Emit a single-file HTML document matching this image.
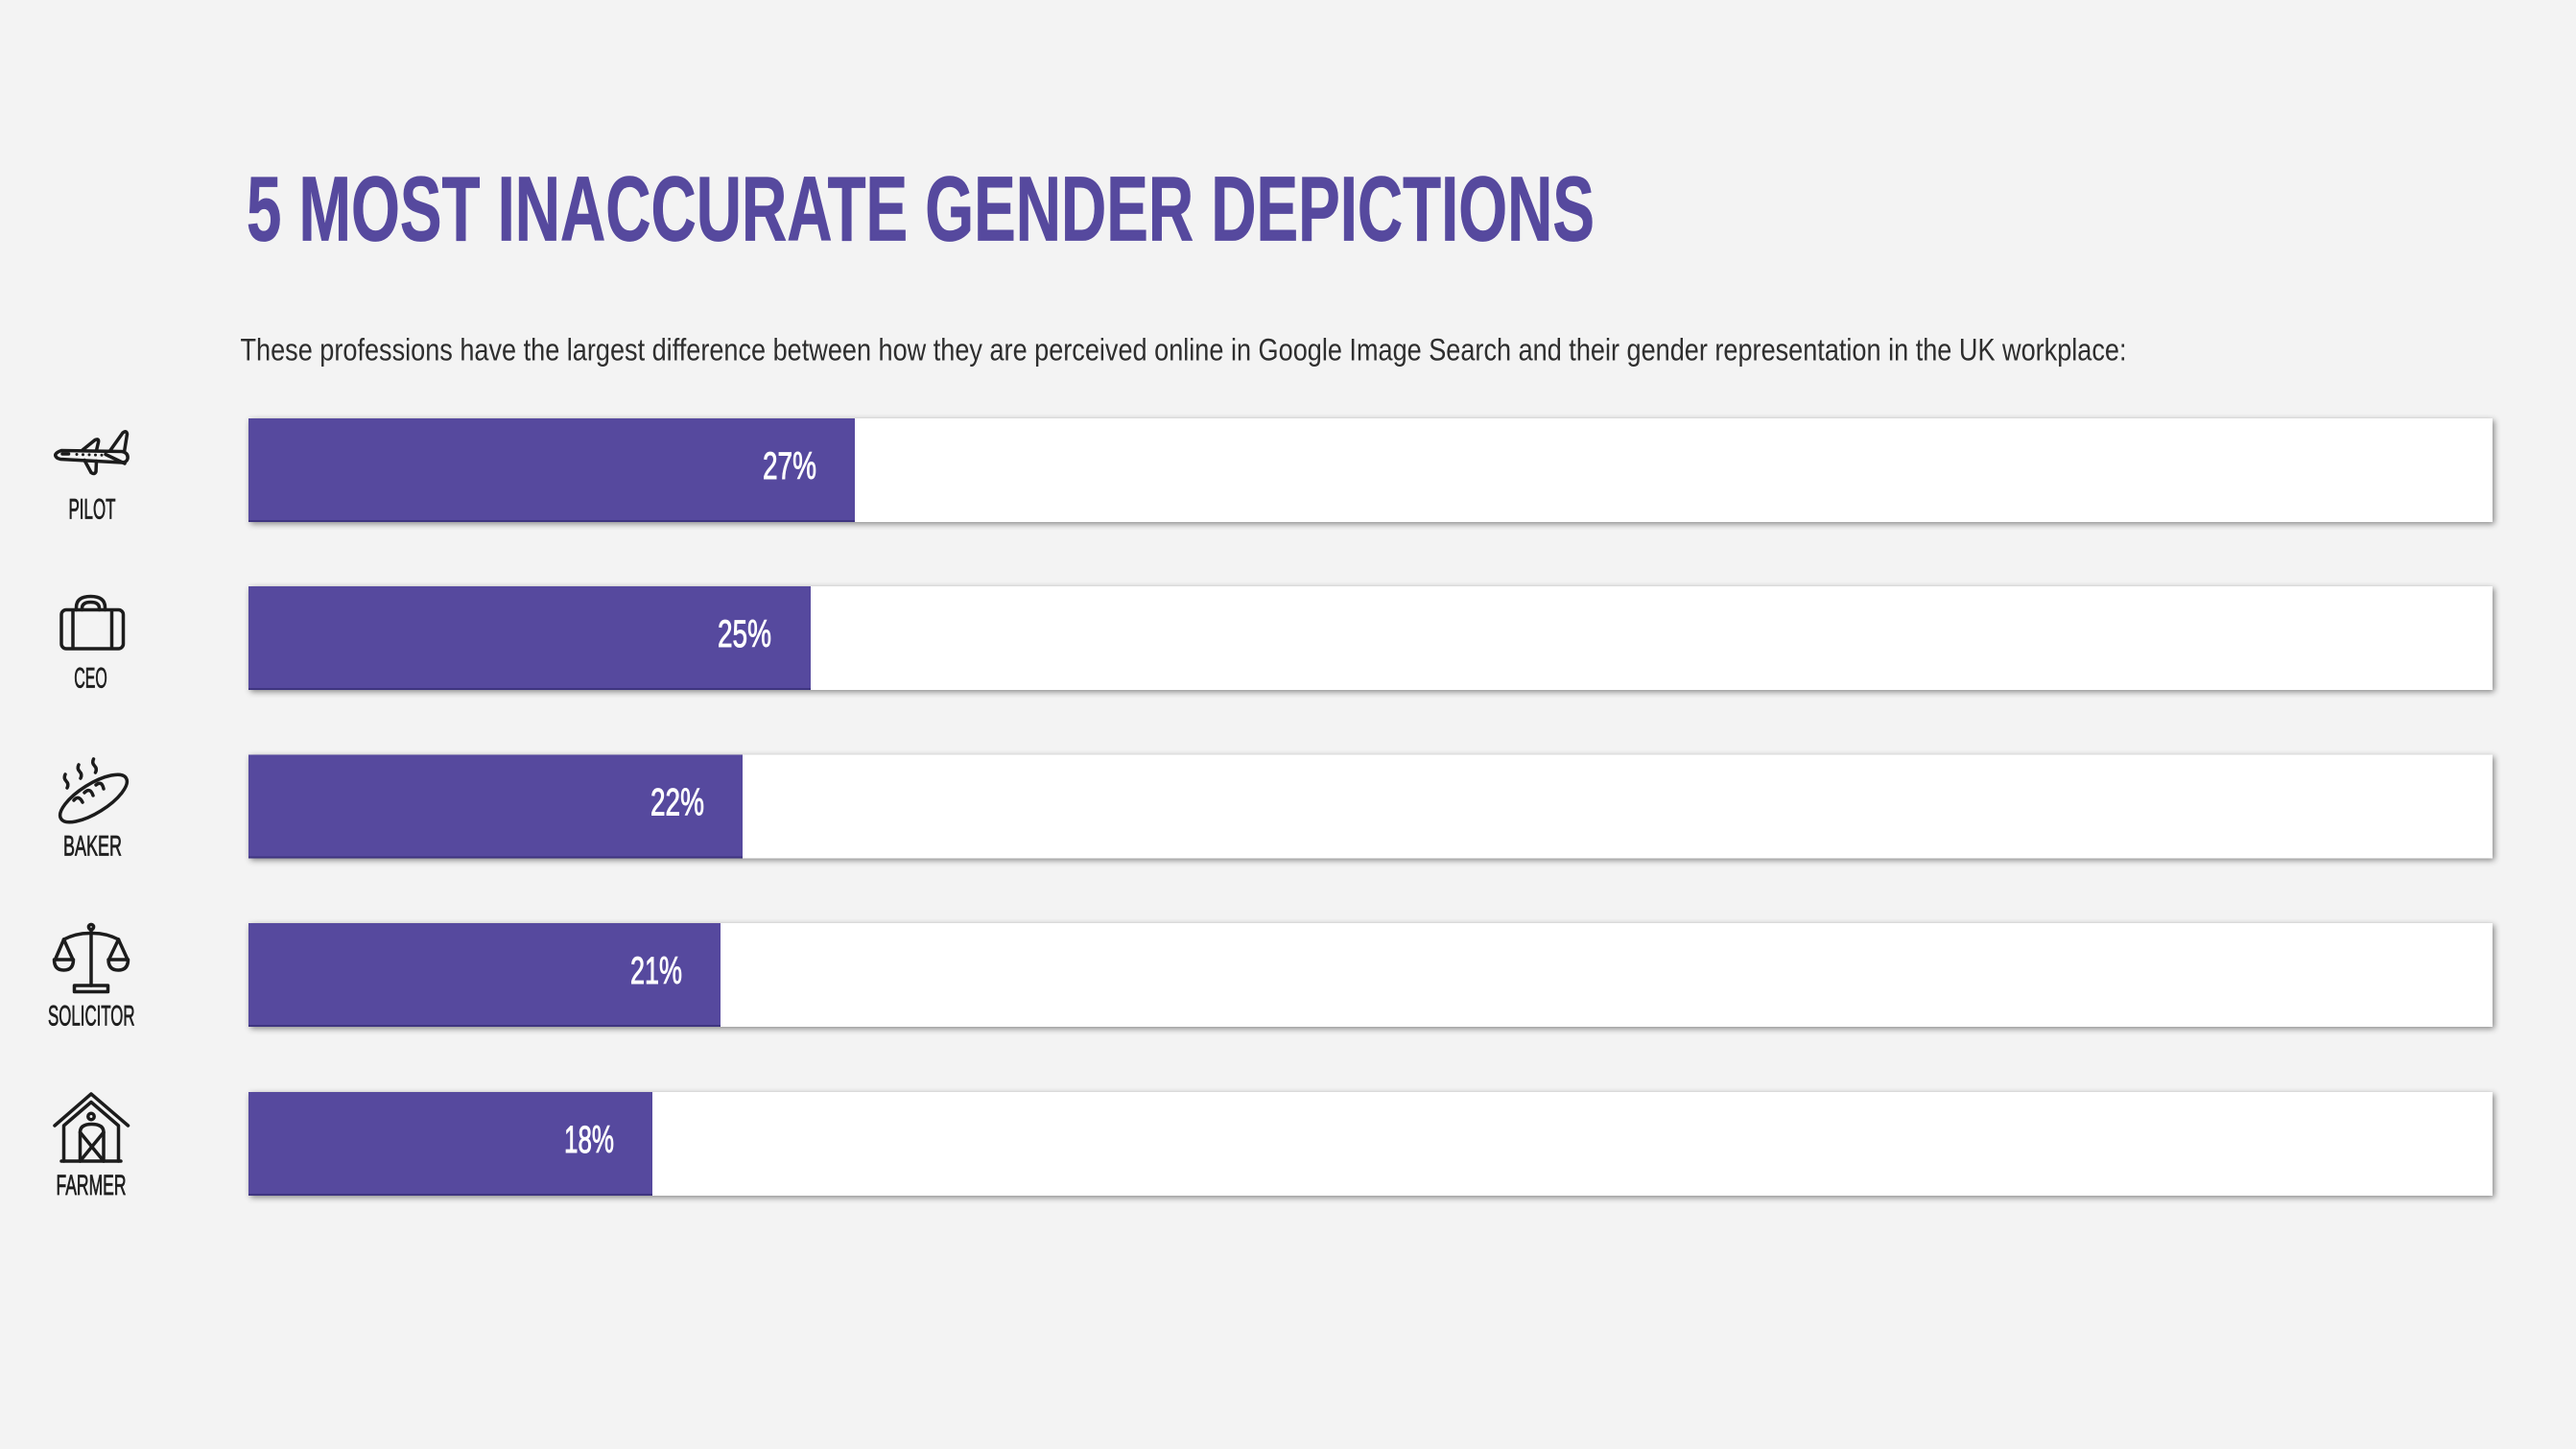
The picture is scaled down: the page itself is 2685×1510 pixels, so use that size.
<!DOCTYPE html>
<html>
<head>
<meta charset="utf-8">
<style>
  html, body { margin: 0; padding: 0; background: #f3f3f3; }
  body { width: 2685px; height: 1510px; overflow: hidden; }
  svg { display: block; }
</style>
</head>
<body>
<svg width="2685" height="1510" viewBox="0 0 2685 1510" xmlns="http://www.w3.org/2000/svg">
  <defs>
    <filter id="sh" x="-5%" y="-30%" width="110%" height="170%">
      <feDropShadow dx="2" dy="2" stdDeviation="3.2" flood-color="#000" flood-opacity="0.45"/>
    </filter>
  </defs>
  <rect x="0" y="0" width="2685" height="1510" fill="#f3f3f3"/>

  <!-- Title -->
  <text x="257" y="250.5" font-family="'Liberation Sans Narrow', 'Liberation Sans', sans-serif" font-weight="bold" font-size="96" fill="#56499e" stroke="#56499e" stroke-width="0.8" textLength="1405" lengthAdjust="spacingAndGlyphs">5 MOST INACCURATE GENDER DEPICTIONS</text>

  <!-- Subtitle -->
  <text x="250.5" y="375.5" font-family="'Liberation Sans Narrow', 'Liberation Sans', sans-serif" font-size="32" fill="#2e2e2e" textLength="1966" lengthAdjust="spacingAndGlyphs">These professions have the largest difference between how they are perceived online in Google Image Search and their gender representation in the UK workplace:</text>

  <!-- Bars -->
  <g filter="url(#sh)">
    <rect x="259" y="436" width="2339" height="108" fill="#ffffff"/>
    <rect x="259" y="611" width="2339" height="108" fill="#ffffff"/>
    <rect x="259" y="786.5" width="2339" height="108" fill="#ffffff"/>
    <rect x="259" y="962" width="2339" height="108" fill="#ffffff"/>
    <rect x="259" y="1138" width="2339" height="108" fill="#ffffff"/>
  </g>
  <g fill="#56499e">
    <rect x="259" y="436" width="632" height="108"/>
    <rect x="259" y="611" width="586" height="108"/>
    <rect x="259" y="786.5" width="515" height="108"/>
    <rect x="259" y="962" width="492" height="108"/>
    <rect x="259" y="1138" width="421" height="108"/>
  </g>
  <g fill="#3f3580">
    <rect x="259" y="542" width="632" height="2"/>
    <rect x="259" y="717" width="586" height="2"/>
    <rect x="259" y="892.5" width="515" height="2"/>
    <rect x="259" y="1068" width="492" height="2"/>
    <rect x="259" y="1244" width="421" height="2"/>
  </g>

  <!-- Percentages -->
  <g font-family="'Liberation Sans Narrow', 'Liberation Sans', sans-serif" font-size="40" fill="#ffffff" stroke="#ffffff" stroke-width="0.9" text-anchor="end">
    <text x="851" y="499" textLength="56" lengthAdjust="spacingAndGlyphs">27%</text>
    <text x="804" y="674" textLength="56" lengthAdjust="spacingAndGlyphs">25%</text>
    <text x="734" y="849.5" textLength="56" lengthAdjust="spacingAndGlyphs">22%</text>
    <text x="711" y="1025" textLength="54" lengthAdjust="spacingAndGlyphs">21%</text>
    <text x="640" y="1201" textLength="52" lengthAdjust="spacingAndGlyphs">18%</text>
  </g>

  <!-- Icon labels -->
  <g font-family="'Liberation Sans Narrow', 'Liberation Sans', sans-serif" font-size="30" fill="#1f1f1f" stroke="#1f1f1f" stroke-width="0.8" text-anchor="middle">
    <text x="96" y="540.5" textLength="49" lengthAdjust="spacingAndGlyphs">PILOT</text>
    <text x="94.5" y="716.5" textLength="34.5" lengthAdjust="spacingAndGlyphs">CEO</text>
    <text x="96.5" y="891.5" textLength="61" lengthAdjust="spacingAndGlyphs">BAKER</text>
    <text x="95.3" y="1068.5" textLength="90.5" lengthAdjust="spacingAndGlyphs">SOLICITOR</text>
    <text x="95" y="1245" textLength="73" lengthAdjust="spacingAndGlyphs">FARMER</text>
  </g>

  <!-- Icons -->
  <g fill="none" stroke="#1c1c1c" stroke-width="3.5" stroke-linecap="round" stroke-linejoin="round">
    <!-- Plane -->
    <path d="M60,477.5 Q54,473 64,469.5 L127,470.5 Q134,472 133,478 Q132,482 127,482 L63,478.5 Z"/>
    <path d="M114.5,470 L128,451 Q132,448 132.5,452.5 L129.5,471"/>
    <path d="M86,469 L99,458.5 Q103.5,456.5 102.5,461 L100.5,469.5"/>
    <path d="M88,479.5 L95,492.5 Q98.5,495 100,491.5 L100.5,480.5"/>
    <path d="M110,473.5 L130,483"/>
    <path d="M65,473 L71.5,473"/>
    <!-- CEO bag -->
    <rect x="64" y="635.5" width="64.5" height="40.5" rx="5" ry="5"/>
    <path d="M76,636 L76,675.5 M116.5,636 L116.5,675.5"/>
    <path d="M79.5,635.5 L79.5,633 Q79.5,621.5 94.5,621.5 Q109.5,621.5 109.5,633 L109.5,635.5"/>
    <path d="M85.5,635.5 L85.5,634 Q85.5,627.5 94.5,627.5 Q103.5,627.5 103.5,634 L103.5,635.5"/>
    <!-- Baker bread -->
    <ellipse cx="97.5" cy="832" rx="40" ry="15" transform="rotate(-32 97.5 832)"/>
    <path d="M77,834 Q82,828 86,836"/>
    <path d="M88,826 Q94,820 97,829"/>
    <path d="M100,818 Q106,813 108,822"/>
    <path d="M68,807 Q66,811 69,814 Q72,817 70,821"/>
    <path d="M82,797 Q80,801 83,804 Q86,807 84,811"/>
    <path d="M97.5,791 Q95.5,795 98.5,798 Q101.5,801 99.5,805"/>
    <!-- Solicitor scales -->
    <circle cx="95" cy="966" r="2.6"/>
    <path d="M95,968.5 L95,1027"/>
    <path d="M66.5,979 Q80,972 95,972.5 Q110,972 123.5,979"/>
    <path d="M66.5,979 L57.5,1000 M66.5,979 L76,1000"/>
    <path d="M56.5,1000 L76.5,1000 Q76.5,1011 66.5,1011 Q56.5,1011 56.5,1000 Z"/>
    <path d="M123.5,979 L113.5,1000 M123.5,979 L133,1000"/>
    <path d="M113,1000 L133.5,1000 Q133.5,1011 123.3,1011 Q113,1011 113,1000 Z"/>
    <rect x="77.5" y="1027" width="35" height="6.5"/>
    <!-- Farmer barn -->
    <path d="M57,1173 L95,1140 L133.5,1173"/>
    <path d="M66.5,1210 L66.5,1173 L95,1148.5 L123.5,1173 L123.5,1210"/>
    <path d="M64,1210 L126,1210"/>
    <circle cx="95" cy="1163.5" r="3.2"/>
    <path d="M83.5,1210 L83.5,1180 Q83.5,1171.5 95.5,1171.5 Q108,1171.5 108,1180 L108,1210"/>
    <path d="M83.5,1180 L108,1210 M108,1180 L83.5,1210"/>
  </g>
  <g fill="#1c1c1c">
    <circle cx="80" cy="473.5" r="1.5"/>
    <circle cx="86.5" cy="473.7" r="1.5"/>
    <circle cx="93" cy="473.9" r="1.5"/>
    <circle cx="99.5" cy="474.1" r="1.5"/>
    <circle cx="106" cy="474.3" r="1.5"/>
  </g>
</svg>
</body>
</html>
